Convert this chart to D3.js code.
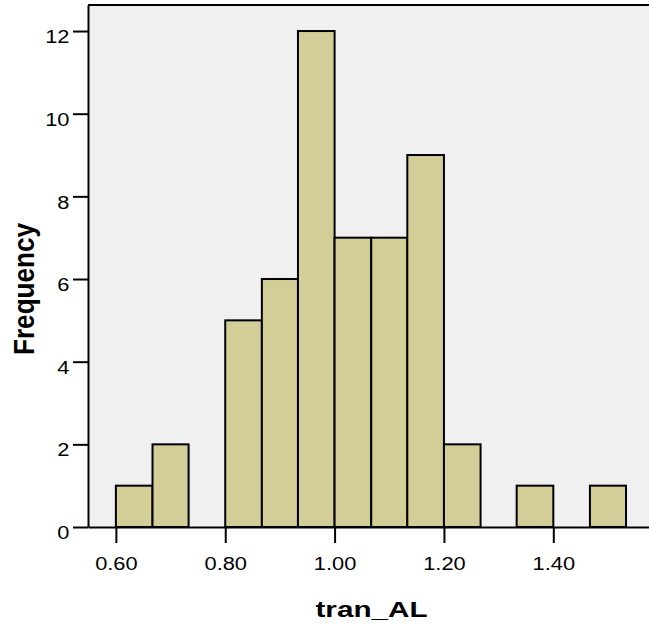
<!doctype html>
<html>
<head>
<meta charset="utf-8">
<style>
	body {
		margin: 0;
		background: #fff;
	}
	.plot-bg {
		fill: #f0f0f0;
	}
	.bar {
		fill: #d3ce97;
		stroke: #000;
		stroke-width: 2px;
	}
	.axis text {
		font: 18.5px "Liberation Sans", Arial, sans-serif;
		fill: #000;
	}
	.axis line, .axis path {
		stroke: #000;
		stroke-width: 2px;
	}
	.frame {
		stroke: #000;
		stroke-width: 2px;
	}
	.title {
		font: bold 21.5px "Liberation Sans", Arial, sans-serif;
		fill: #000;
	}
</style>
<script src="https://d3js.org/d3.v7.min.js"></script>
</head>
<body>
<div id="canvas"></div>
<script>
	// histogram bins
	var bin_low  = [0.600, 0.667, 0.733, 0.800, 0.867, 0.933, 1.000, 1.067, 1.133, 1.200, 1.267, 1.333, 1.400, 1.467];
	var bin_high = [0.667, 0.733, 0.800, 0.867, 0.933, 1.000, 1.067, 1.133, 1.200, 1.267, 1.333, 1.400, 1.467, 1.533];
	var counts   = [1, 2, 0, 5, 6, 12, 7, 7, 9, 2, 0, 1, 0, 1];

	var x_ticks = [0.60, 0.80, 1.00, 1.20, 1.40];
	var y_ticks = [0, 2, 4, 6, 8, 10, 12];

	var x_title = "tran_AL",
		y_title = "Frequency";

	var width = 649,
		height = 629,
		plot = {left: 88, right: 655, top: 5, bottom: 527};

	var bins = bin_low.map((d, i) => ({low: d, high: bin_high[i], count: counts[i]}));

	var scale_x = d3.scaleLinear()
		.domain([0.549, 1.586])
		.range([plot.left, plot.right]);

	var scale_y = d3.scaleLinear()
		.domain([0, 12.63])
		.range([plot.bottom, plot.top]);

	var svg = d3.select("#canvas")
		.append("svg")
		.attr("width", width)
		.attr("height", height);

	svg.append("rect")
		.attr("class", "plot-bg")
		.attr("x", plot.left)
		.attr("y", plot.top)
		.attr("width", plot.right - plot.left)
		.attr("height", plot.bottom - plot.top);

	svg.append("line")
		.attr("class", "frame")
		.attr("x1", plot.left)
		.attr("x2", plot.right)
		.attr("y1", plot.top)
		.attr("y2", plot.top);

	svg.selectAll(".bar")
		.data(bins.filter(d => d.count > 0))
	  .enter().append("rect")
		.attr("class", "bar")
		.attr("x", d => scale_x(d.low))
		.attr("y", d => scale_y(d.count))
		.attr("width", d => scale_x(d.high) - scale_x(d.low))
		.attr("height", d => scale_y(0) - scale_y(d.count));

	var axis_y = d3.axisLeft(scale_y)
		.tickValues(y_ticks)
		.tickSize(15)
		.tickSizeOuter(0)
		.tickPadding(0.7)
		.tickFormat(d3.format("d"));

	var axis_x = d3.axisBottom(scale_x)
		.tickValues(x_ticks)
		.tickSize(16)
		.tickSizeOuter(0)
		.tickPadding(14)
		.tickFormat(d3.format(".2f"));

	var g_y = svg.append("g")
		.attr("class", "axis")
		.attr("transform", `translate(${plot.left}, 0)`)
		.call(axis_y);

	g_y.selectAll("text")
		.attr("dy", "0.63em")
		.attr("transform", "scale(1.18, 1)");

	var g_x = svg.append("g")
		.attr("class", "axis")
		.attr("transform", `translate(0, ${plot.bottom})`)
		.call(axis_x);

	g_x.selectAll("text")
		.attr("transform", "scale(1.18, 1)");

	svg.selectAll(".axis text").attr("font-family", null).attr("font-size", null);

	// SPSS titles come out stretched, so scale the glyphs
	svg.append("text")
		.attr("class", "title")
		.attr("text-anchor", "middle")
		.attr("transform", "translate(371.5, 617) scale(1.38, 1)")
		.text(x_title);

	svg.append("text")
		.attr("class", "title")
		.attr("text-anchor", "middle")
		.attr("transform", "translate(34, 289) rotate(-90) scale(0.87, 1)")
		.style("font-size", "30px")
		.text(y_title);
</script>
</body>
</html>
